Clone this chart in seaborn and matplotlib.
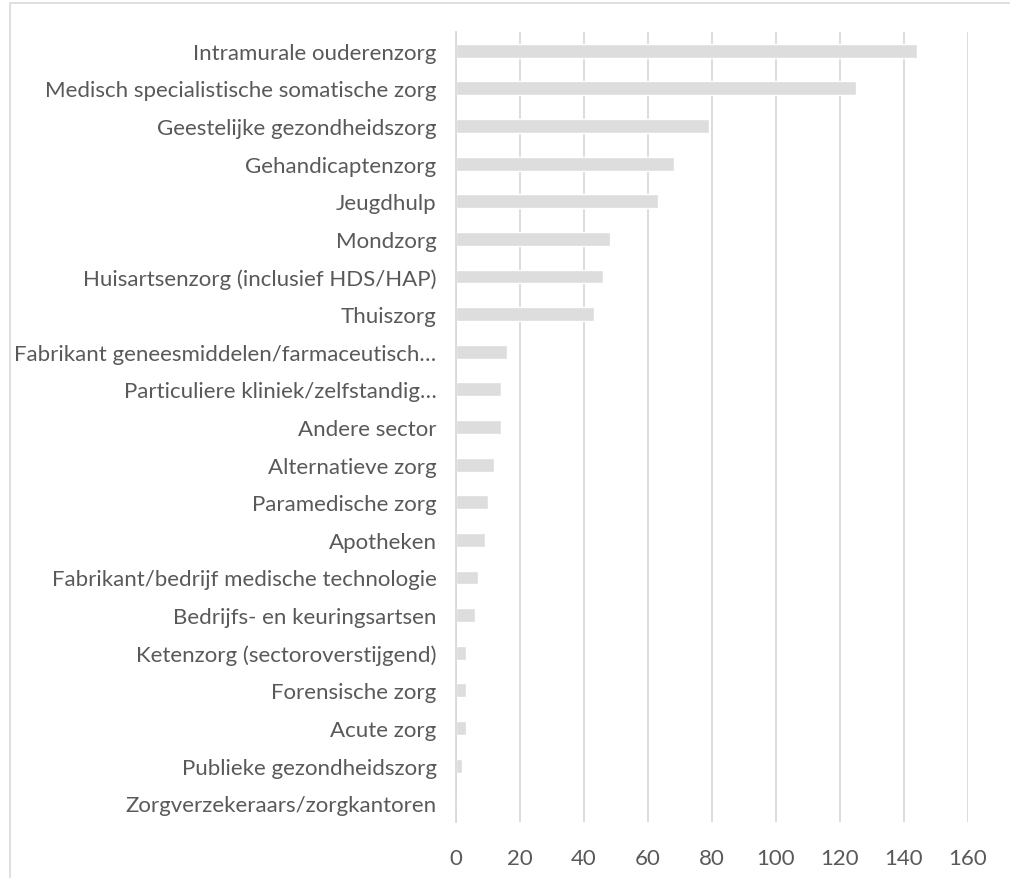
import matplotlib
matplotlib.use("Agg")
import matplotlib.pyplot as plt
import seaborn as sns
import pandas as pd
from matplotlib.patches import Rectangle

categories = [
    "Intramurale ouderenzorg",
    "Medisch specialistische somatische zorg",
    "Geestelijke gezondheidszorg",
    "Gehandicaptenzorg",
    "Jeugdhulp",
    "Mondzorg",
    "Huisartsenzorg (inclusief HDS/HAP)",
    "Thuiszorg",
    "Fabrikant geneesmiddelen/farmaceutisch…",
    "Particuliere kliniek/zelfstandig…",
    "Andere sector",
    "Alternatieve zorg",
    "Paramedische zorg",
    "Apotheken",
    "Fabrikant/bedrijf medische technologie",
    "Bedrijfs- en keuringsartsen",
    "Ketenzorg (sectoroverstijgend)",
    "Forensische zorg",
    "Acute zorg",
    "Publieke gezondheidszorg",
    "Zorgverzekeraars/zorgkantoren",
]
values = [144, 125, 79, 68, 63, 48, 46, 43, 16, 14, 14, 12, 10, 9, 7, 6, 3, 3, 3, 2, 0]
xticks = [0, 20, 40, 60, 80, 100, 120, 140, 160]

df = pd.DataFrame({"categorie": categories, "aantal": values})

sns.set_theme(style="white")
plt.rcParams["font.family"] = ["Lato", "DejaVu Sans"]

W, H = 1010, 879
fig = plt.figure(figsize=(W / 100, H / 100), dpi=100)
ax = fig.add_axes([456 / W, 1 - 823 / H, (968 - 456) / W, (823 - 33) / H])

grid_c = "#D9D9D9"
sns.barplot(data=df, x="aantal", y="categorie", orient="h", color="#DDDDDD",
            width=0.37, ax=ax, saturation=1, zorder=2)

ax.set_xlim(0, 160)
ax.set_ylim(len(categories) - 0.5, -0.5)
ax.set_xticks(xticks)
ax.set_xticklabels([str(t) for t in xticks])
ax.xaxis.grid(True, color=grid_c, linewidth=1.3, zorder=0)
ax.set_axisbelow(True)
for s in ["top", "right", "bottom"]:
    ax.spines[s].set_visible(False)
ax.spines["left"].set_color(grid_c)
ax.spines["left"].set_linewidth(1.3)
ax.tick_params(axis="both", length=0, labelsize=16, colors="#595959")
ax.tick_params(axis="y", pad=14)
ax.tick_params(axis="x", pad=19)
ax.set_xlabel("")
ax.set_ylabel("")

# chart border
fig.patches.append(Rectangle((10 / W, -0.05), 1.2, 1 - 4 / H + 0.05,
                             transform=fig.transFigure, fill=False,
                             edgecolor=grid_c, linewidth=1.2))

fig.savefig("out.png", dpi=100, facecolor="white")
